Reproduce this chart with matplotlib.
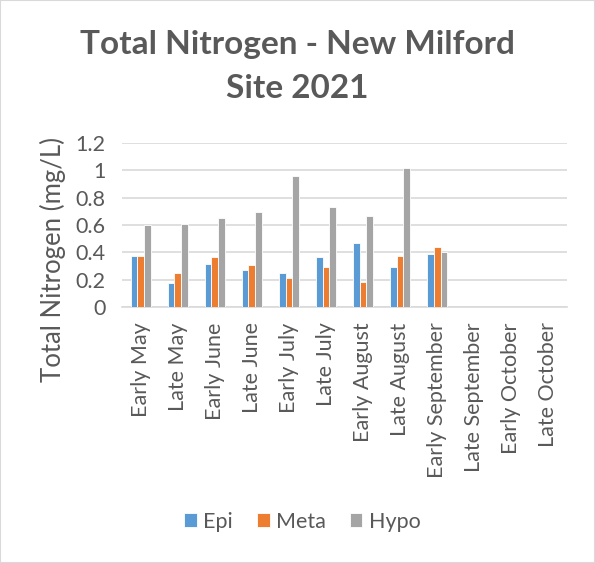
import matplotlib.pyplot as plt
import numpy as np

months = ["Early May", "Late May", "Early June", "Late June", "Early July",
          "Late July", "Early August", "Late August", "Early September",
          "Late September", "Early October", "Late October"]
nan = np.nan
epi = [0.37, 0.175, 0.315, 0.27, 0.25, 0.365, 0.47, 0.295, 0.39, nan, nan, nan]
meta = [0.37, 0.25, 0.365, 0.305, 0.21, 0.295, 0.185, 0.375, 0.44, nan, nan, nan]
hypo = [0.6, 0.61, 0.65, 0.695, 0.955, 0.73, 0.665, 1.015, 0.405, nan, nan, nan]

plt.rcParams['font.family'] = ['Lato', 'DejaVu Sans']
txt = "#595959"

fig = plt.figure(figsize=(5.95, 5.63), dpi=100)
ax = fig.add_axes([0.205, 0.4547, 0.748, 0.2913])

x = np.arange(len(months))
w = 0.18
ax.bar(x - w, epi, w, color="#5B9BD5", edgecolor="white", linewidth=0.6, label="Epi", zorder=3)
ax.bar(x, meta, w, color="#ED7D31", edgecolor="white", linewidth=0.6, label="Meta", zorder=3)
ax.bar(x + w, hypo, w, color="#A5A5A5", edgecolor="white", linewidth=0.6, label="Hypo", zorder=3)

ax.set_xlim(-0.5, len(months) - 0.5)
ax.set_ylim(0, 1.2)
ax.set_yticks([0, 0.2, 0.4, 0.6, 0.8, 1.0, 1.2])
ax.set_yticklabels(["0", "0.2", "0.4", "0.6", "0.8", "1", "1.2"])
ax.set_xticks(x)
ax.set_xticklabels(months, rotation=90)
ax.tick_params(axis="both", length=0, colors=txt, labelsize=15.5)
ax.tick_params(axis="x", pad=11)
ax.tick_params(axis="y", pad=12)
ax.grid(axis="y", color="#d9d9d9", linewidth=1.2, zorder=0)
for s in ["top", "right", "left"]:
    ax.spines[s].set_visible(False)
ax.spines["bottom"].set_color("#d9d9d9")
ax.spines["bottom"].set_linewidth(1.2)

ax.set_ylabel("Total Nitrogen (mg/L)", color=txt, fontsize=18.5)
ax.yaxis.set_label_coords(-0.125, 0.29)
fig.text(0.5, 0.882, "Total Nitrogen - New Milford\nSite 2021", ha="center", va="center",
         fontsize=24, fontweight="bold", color=txt, linespacing=1.62)

fig.legend(loc="center", bbox_to_anchor=(0.508, 0.073), ncol=3, frameon=False,
           fontsize=15.5, labelcolor=txt, handlelength=0.6, handleheight=0.6,
           handletextpad=0.3, columnspacing=1.1)

fig.patches.append(plt.Rectangle((0, 0), 1, 1, transform=fig.transFigure,
                                 fill=False, edgecolor="#d9d9d9", linewidth=1.5))

fig.savefig("out.png", dpi=100)
